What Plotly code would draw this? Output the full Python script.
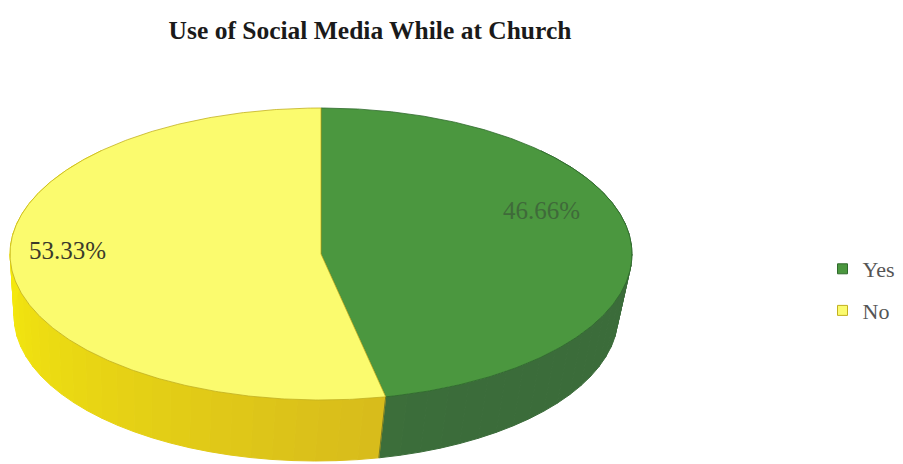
import numpy as np
import plotly.graph_objects as go

# ---- data ----
labels = ["Yes", "No"]
values = [46.66, 53.33]
label_text = ["46.66%", "53.33%"]
top_colors = ["#4b973f", "#fbfb6e"]
side_light = ["#3f7a3b", "#f4e80e"]
side_dark = ["#3b6c3a", "#d2b31e"]
edge_colors = ["#2f6a2c", "#c2b020"]
title = "Use of Social Media While at Church"

# ---- geometry of the 3D pie (pixel-like plot coordinates, y downwards) ----
W, H = 903, 464
OFF = 8  # page body margin in the browser
top_ell = (321, 254, 311, 146)      # cx, cy, a, b of the top face
bot_ell = (316, 316, 302, 145)      # cx, cy, a, b of the bottom rim (perspective)


def pt(ell, theta_deg):
    cx, cy, a, b = ell
    t = np.radians(theta_deg)
    return cx + a * np.sin(t), cy - b * np.cos(t)


def mix(c1, c2, f):
    c1 = [int(c1[i:i + 2], 16) for i in (1, 3, 5)]
    c2 = [int(c2[i:i + 2], 16) for i in (1, 3, 5)]
    return "#" + "".join("%02x" % int(round(p + (q - p) * f)) for p, q in zip(c1, c2))


total = sum(values)
angles = [0.0]
for v in values:
    angles.append(angles[-1] + 360.0 * v / total)

fig = go.Figure()

# side walls, drawn in small chunks (visible front part)
SIDE_FROM, SIDE_TO = 45.0, 315.0
for i, lab in enumerate(labels):
    s, e = max(angles[i], SIDE_FROM), min(angles[i + 1], SIDE_TO)
    if e <= s:
        continue
    edges = np.linspace(s, e, max(2, int((e - s) / 4) + 1))
    for k in range(len(edges) - 1):
        th = np.linspace(edges[k], edges[k + 1], 12)
        xt, yt = pt(top_ell, th)
        xb, yb = pt(bot_ell, th[::-1])
        mid = 0.5 * (edges[k] + edges[k + 1])
        # shade: lighter toward the left side of the pie, darker toward the front-right
        f = np.clip((270.0 - mid) / 120.0, 0, 1)
        col = mix(side_light[i], side_dark[i], f)
        fig.add_trace(go.Scatter(
            x=np.concatenate([xt, xb, xt[:1]]), y=np.concatenate([yt, yb, yt[:1]]),
            fill="toself", fillcolor=col, mode="lines",
            line=dict(color=col, width=1),
            hoverinfo="skip", showlegend=False))

# top faces
for i, lab in enumerate(labels):
    th = np.linspace(angles[i], angles[i + 1], 400)
    xt, yt = pt(top_ell, th)
    cx, cy = top_ell[0], top_ell[1]
    fig.add_trace(go.Scatter(
        x=np.concatenate([[cx], xt, [cx]]), y=np.concatenate([[cy], yt, [cy]]),
        fill="toself", fillcolor=top_colors[i], mode="lines",
        line=dict(color=edge_colors[i], width=0.8),
        hoverinfo="skip", showlegend=False))

# front vertical edge between the slices
bx, by = pt(top_ell, angles[1])
bbx, bby = pt(bot_ell, angles[1])
fig.add_trace(go.Scatter(x=[bx, bbx], y=[by, bby], mode="lines",
                         line=dict(color="#5a6a2a", width=0.8),
                         hoverinfo="skip", showlegend=False))

# legend entries
for i, lab in enumerate(labels):
    fig.add_trace(go.Scatter(
        x=[None], y=[None], mode="markers", name=lab, legendgroup=lab,
        marker=dict(symbol="square", size=10, color=top_colors[i],
                    line=dict(color=edge_colors[i], width=1))))

# data labels
label_pos = [(541, 210), (67, 250)]
label_colors = ["#3f6a3a", "#3a3a2a"]
for i, txt in enumerate(label_text):
    fig.add_annotation(x=label_pos[i][0], y=label_pos[i][1], text=txt,
                       showarrow=False, xref="x", yref="y",
                       font=dict(family="Liberation Serif", size=25,
                                 color=label_colors[i]))

fig.update_layout(
    width=W, height=H,
    margin=dict(l=0, r=0, t=0, b=0, autoexpand=False),
    paper_bgcolor="white", plot_bgcolor="white",
    title=dict(text="<b>" + title + "</b>", x=(370 - OFF) / W, xanchor="center",
               y=1 - (30 - OFF) / H, yanchor="middle",
               font=dict(family="Liberation Serif", size=25.5, color="#1a1a1a")),
    xaxis=dict(range=[OFF, W + OFF], visible=False, fixedrange=True),
    yaxis=dict(range=[H + OFF, OFF], visible=False, fixedrange=True),
    showlegend=True,
    legend=dict(x=0.902, y=1 - 282 / H, xanchor="left", yanchor="middle",
                font=dict(family="Liberation Serif", size=22, color="#555555"),
                tracegroupgap=10, bgcolor="rgba(0,0,0,0)"),
)

fig.write_html("out.html")
